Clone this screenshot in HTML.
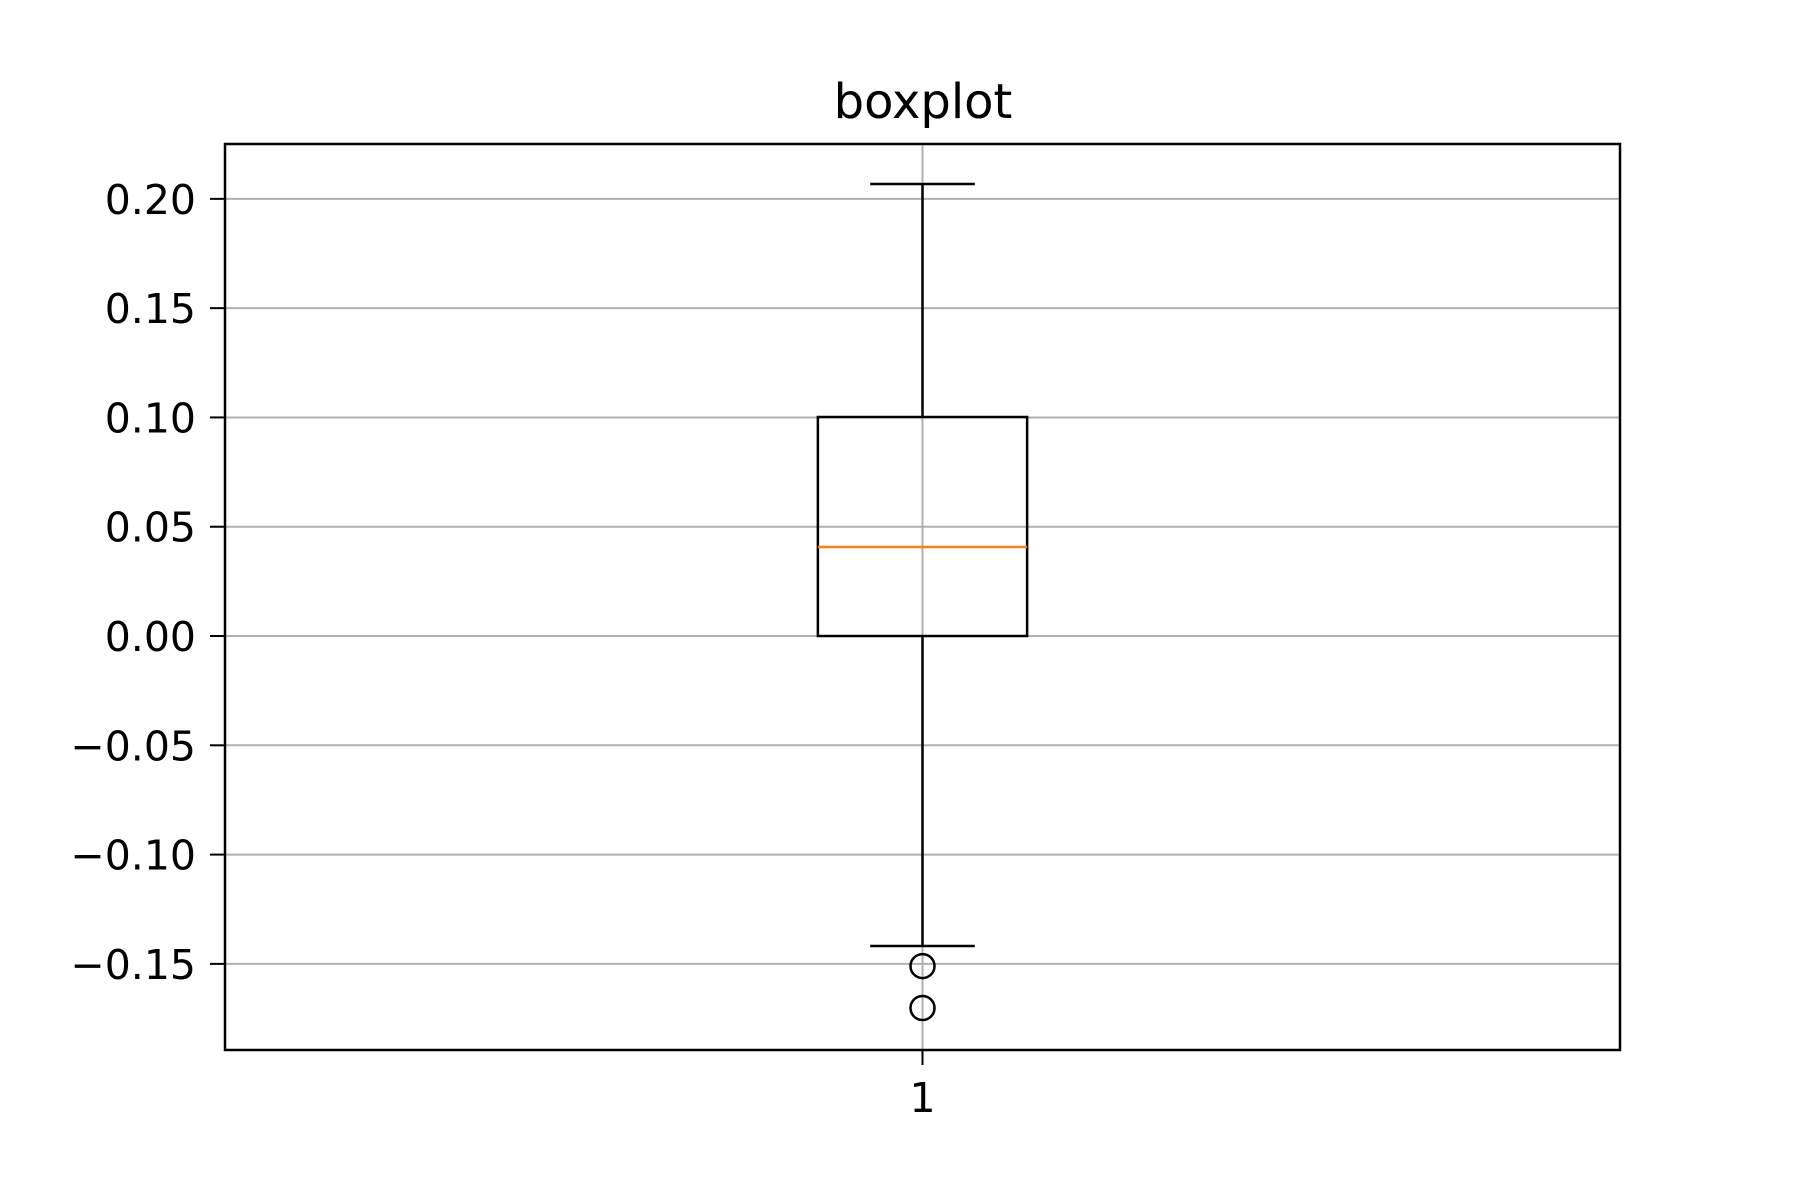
<!DOCTYPE html>
<html><head><meta charset="utf-8"><style>
html,body{margin:0;padding:0;background:#fff;}
svg{display:block;font-family:"DejaVu Sans","Liberation Sans",sans-serif;}
</style></head><body>
<svg id="chart" width="1800" height="1200" viewBox="0 0 1800 1200" xmlns="http://www.w3.org/2000/svg">
<rect width="1800" height="1200" fill="#fff"/>
<text x="923" y="118" font-size="48" text-anchor="middle">boxplot</text>
<g id="grid"></g><g id="marks"></g><g id="axes"></g>
</svg>
<script>
const categories = ["1"];
const whiskerHigh = [0.2068];
const q3 = [0.1002];
const median = [0.0407];
const q1 = [0.0];
const whiskerLow = [-0.1418];
const outliers = [-0.1510, -0.1702];
const yTicks = [0.20, 0.15, 0.10, 0.05, 0.00, -0.05, -0.10, -0.15];
const yTickLabels = ["0.20","0.15","0.10","0.05","0.00","\u22120.05","\u22120.10","\u22120.15"];

const L=225,R=1620,T=144,B=1050;
const yMin=-0.1894,yMax=0.2251;
const xMin=0.5,xMax=1.5;
const X=v=>L+(v-xMin)/(xMax-xMin)*(R-L);
const Y=v=>B-(v-yMin)/(yMax-yMin)*(B-T);
const NS="http://www.w3.org/2000/svg";
function mk(tag,attrs,parent){const e=document.createElementNS(NS,tag);for(const k in attrs)e.setAttribute(k,attrs[k]);document.getElementById(parent).appendChild(e);return e;}

yTicks.forEach((t,i)=>{
  const g=mk('line',{x1:L,x2:R,y1:Y(t),y2:Y(t),stroke:'#b0b0b0','stroke-width':2},'grid');
  
  
  const tk=mk('line',{x1:L-15,x2:L,y1:Y(t),y2:Y(t),stroke:'#000','stroke-width':2},'axes');
  
  
  const lb=mk('text',{x:L-29,y:Y(t)+15,'font-size':41,'text-anchor':'end'},'axes');
  lb.textContent=yTickLabels[i];
  
  
});
categories.forEach((c,i)=>{
  const xv=i+1, cx=X(xv);
  const vg=mk('line',{x1:cx,x2:cx,y1:T,y2:B,stroke:'#b0b0b0','stroke-width':2},'grid');
  
  
  const tk=mk('line',{x1:cx,x2:cx,y1:B,y2:B+15,stroke:'#000','stroke-width':2},'axes');
  
  
  const lb=mk('text',{x:cx,y:B+62,'font-size':41,'text-anchor':'middle'},'axes');
  lb.textContent=c;
  
  
  const w1=mk('line',{x1:cx,x2:cx,y1:Y(q3[i]),y2:Y(whiskerHigh[i]),stroke:'#000','stroke-width':2.5},'marks');
  
  
  const w2=mk('line',{x1:cx,x2:cx,y1:Y(q1[i]),y2:Y(whiskerLow[i]),stroke:'#000','stroke-width':2.5},'marks');
  
  
  const c1=mk('line',{x1:X(xv-0.0375),x2:X(xv+0.0375),y1:Y(whiskerHigh[i]),y2:Y(whiskerHigh[i]),stroke:'#000','stroke-width':2.5},'marks');
  
  
  const c2=mk('line',{x1:X(xv-0.0375),x2:X(xv+0.0375),y1:Y(whiskerLow[i]),y2:Y(whiskerLow[i]),stroke:'#000','stroke-width':2.5},'marks');
  
  
  const bx=mk('rect',{x:X(xv-0.075),y:Y(q3[i]),width:X(xv+0.075)-X(xv-0.075),height:Y(q1[i])-Y(q3[i]),fill:'none',stroke:'#000','stroke-width':2.5},'marks');
  
  
  const md=mk('line',{x1:X(xv-0.075),x2:X(xv+0.075),y1:Y(median[i]),y2:Y(median[i]),stroke:'#ff7f0e','stroke-width':2.5},'marks');
  
  
  outliers.forEach(o=>{
    const p=mk('circle',{cx:cx,cy:Y(o),r:12,fill:'none',stroke:'#000','stroke-width':2.5},'marks');
    
    
  });
});
const fr=mk('rect',{x:L,y:T,width:R-L,height:B-T,fill:'none',stroke:'#000','stroke-width':2.5},'axes');


</script>
</body></html>
